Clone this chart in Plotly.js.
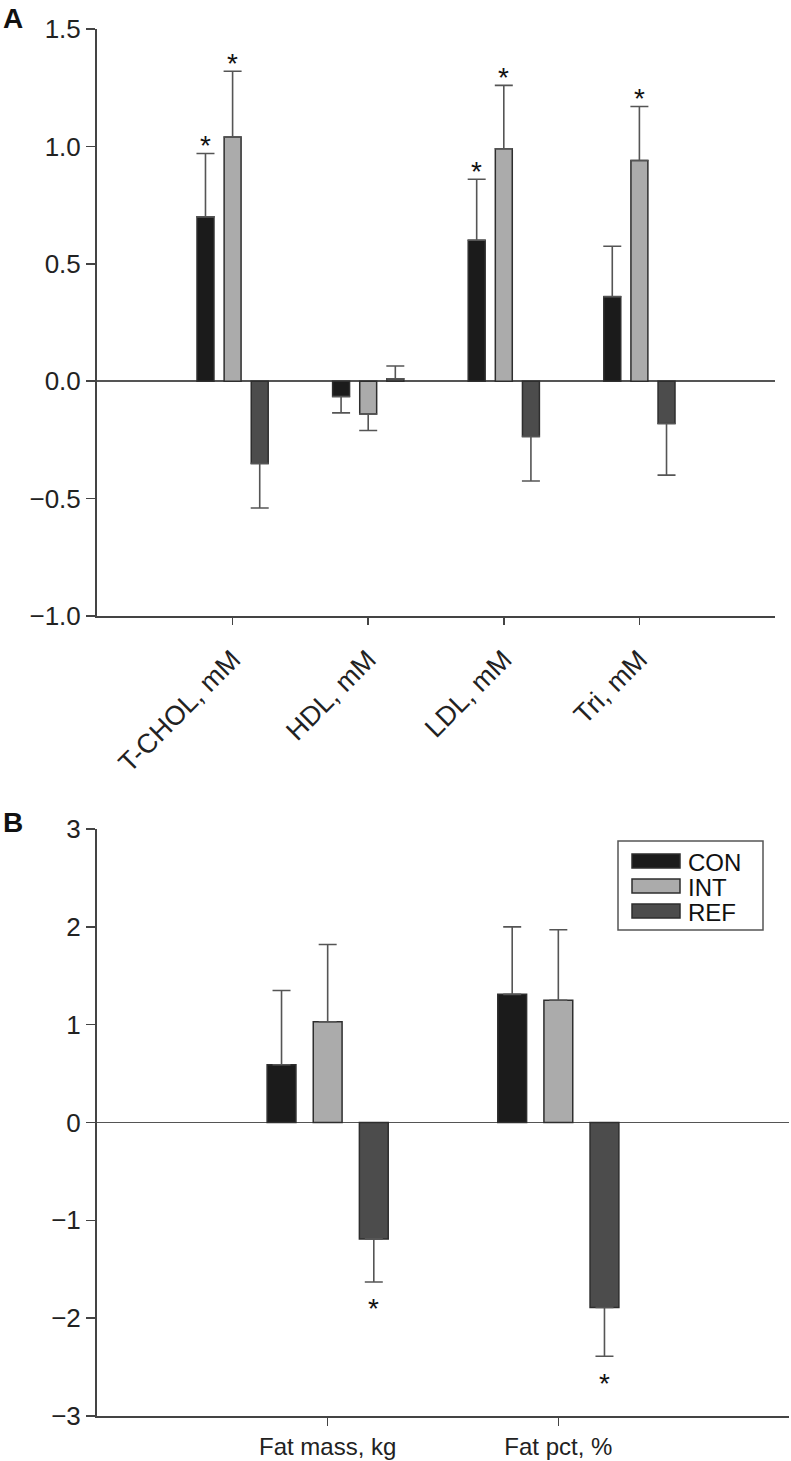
<!DOCTYPE html>
<html>
<head>
<meta charset="utf-8">
<script src="https://cdn.plot.ly/plotly-3.0.1.min.js"></script>
<style>html,body{margin:0;padding:0;background:#fff;}#chart{width:791px;height:1461px;}</style>
</head>
<body>
<div id="chart"></div>
<script>
// ---- data ----
const groups = ['CON', 'INT', 'REF'];
const groupColors = ['#1b1b1b', '#ababab', '#4c4c4c'];

const lipidCats = ['T-CHOL, mM', 'HDL, mM', 'LDL, mM', 'Tri, mM'];
const lipidCON = [0.70, -0.065, 0.60, 0.36];
const lipidCONerr = [0.27, 0.07, 0.26, 0.215];
const lipidCONsig = [1, 0, 1, 0];
const lipidINT = [1.04, -0.14, 0.99, 0.94];
const lipidINTerr = [0.28, 0.07, 0.27, 0.23];
const lipidINTsig = [1, 0, 1, 1];
const lipidREF = [-0.35, 0.01, -0.235, -0.18];
const lipidREFerr = [0.19, 0.055, 0.19, 0.22];
const lipidREFsig = [0, 0, 0, 0];

const fatCats = ['Fat mass, kg', 'Fat pct, %'];
const fatCON = [0.59, 1.31];
const fatCONerr = [0.76, 0.69];
const fatCONsig = [0, 0];
const fatINT = [1.03, 1.25];
const fatINTerr = [0.79, 0.72];
const fatINTsig = [0, 0];
const fatREF = [-1.19, -1.89];
const fatREFerr = [0.44, 0.50];
const fatREFsig = [1, 1];

const lipidTicks = [-1.0, -0.5, 0.0, 0.5, 1.0, 1.5];
const fatTicks = [-3, -2, -1, 0, 1, 2, 3];

// ---- build ----
const FONT = 'Liberation Sans, Arial, Helvetica, sans-serif';
const slotOffsets = [-0.2, 0, 0.2];
const W = 791, H = 1461, ML = 97, MR = 2, MT = 29, MB = 45;
const PW = W - ML - MR, PH = H - MT - MB;
const px2x = p => (p - ML) / PW;          // pixel -> paper x (layout helper)
const py2y = p => (H - MB - p) / PH;      // pixel -> paper y (layout helper)

function makeTrace(name, idx, cats, vals, errs, xa, ya) {
  return {
    type: 'bar', name: name, x: cats, y: vals, xaxis: xa, yaxis: ya,
    showlegend: false,
    marker: {color: groupColors[idx], line: {color: '#2e2e2e', width: 1.5}},
    error_y: {
      type: 'data', symmetric: false,
      array: vals.map((v, i) => v >= 0 ? errs[i] : 0),
      arrayminus: vals.map((v, i) => v < 0 ? errs[i] : 0),
      color: '#555', thickness: 1.6, width: 9
    },
    hoverinfo: 'skip'
  };
}

const lipidSets = [[lipidCON, lipidCONerr, lipidCONsig], [lipidINT, lipidINTerr, lipidINTsig], [lipidREF, lipidREFerr, lipidREFsig]];
const fatSets = [[fatCON, fatCONerr, fatCONsig], [fatINT, fatINTerr, fatINTsig], [fatREF, fatREFerr, fatREFsig]];

const traces = [];
lipidSets.forEach((s, g) => traces.push(makeTrace(groups[g], g, lipidCats, s[0], s[1], 'x', 'y')));
fatSets.forEach((s, g) => traces.push(makeTrace(groups[g], g, fatCats, s[0], s[1], 'x2', 'y2')));

const annotations = [];
function addStars(sets, xref, yref) {
  sets.forEach((s, g) => {
    s[2].forEach((flag, i) => {
      if (!flag) return;
      const v = s[0][i], e = s[1][i];
      const pos = v >= 0;
      annotations.push({
        xref: xref, yref: yref, x: i + slotOffsets[g], y: pos ? v + e : v - e,
        text: '*', showarrow: false, font: {family: FONT, size: 28, color: '#111'},
        xanchor: 'center', yanchor: 'middle', yshift: pos ? 8 : -27
      });
    });
  });
}
addStars(lipidSets, 'x', 'y');
addStars(fatSets, 'x2', 'y2');

annotations.push({xref: 'paper', yref: 'paper', x: px2x(1), y: py2y(19), xanchor: 'left', yanchor: 'middle',
  text: '<b>A</b>', showarrow: false, font: {family: FONT, size: 28, color: '#111'}});
annotations.push({xref: 'paper', yref: 'paper', x: px2x(1), y: py2y(822), xanchor: 'left', yanchor: 'middle',
  text: '<b>B</b>', showarrow: false, font: {family: FONT, size: 28, color: '#111'}});

// custom legend (wide swatches as in the original figure)
const shapes = [];
shapes.push({type: 'rect', xref: 'paper', yref: 'paper', x0: px2x(618), x1: px2x(763), y0: py2y(841), y1: py2y(930),
  line: {color: '#555', width: 1.5}, fillcolor: '#fff', layer: 'above'});
groups.forEach((name, g) => {
  const cy = 861 + g * 25;
  shapes.push({type: 'rect', xref: 'paper', yref: 'paper', x0: px2x(632), x1: px2x(680), y0: py2y(cy - 7), y1: py2y(cy + 7),
    line: {color: '#2e2e2e', width: 1.5}, fillcolor: groupColors[g], layer: 'above'});
  annotations.push({xref: 'paper', yref: 'paper', x: px2x(686), y: py2y(cy + 1), xanchor: 'left', yanchor: 'middle',
    text: name, showarrow: false, font: {family: FONT, size: 24, color: '#111'}});
});

const axisCommon = {
  showline: true, linecolor: '#444', linewidth: 2, ticks: 'outside', tickcolor: '#444', tickwidth: 1.5,
  showgrid: false, tickfont: {family: FONT, size: 26, color: '#222'}, fixedrange: true
};

const layout = {
  width: W, height: H,
  margin: {l: ML, r: MR, t: MT, b: MB},
  paper_bgcolor: '#fff', plot_bgcolor: '#fff',
  barmode: 'group', bargap: 0.4, bargroupgap: 0.375,
  showlegend: false,
  xaxis: Object.assign({}, axisCommon, {domain: [0, px2x(775)], anchor: 'y', type: 'category',
    range: [-1, lipidCats.length], tickangle: -45, ticklen: 7, zeroline: false, ticklabelstandoff: 8,
    tickfont: {family: FONT, size: 27, color: '#222'}}),
  yaxis: Object.assign({}, axisCommon, {domain: [py2y(616), 1], anchor: 'x', range: [lipidTicks[0], lipidTicks[lipidTicks.length - 1]],
    tickvals: lipidTicks, tickformat: '.1f', ticklen: 9, zeroline: true, zerolinecolor: '#555', zerolinewidth: 1.6}),
  xaxis2: Object.assign({}, axisCommon, {domain: [0, 1], anchor: 'y2', type: 'category',
    range: [-1, fatCats.length], ticklen: 8, zeroline: false, ticklabelstandoff: 0,
    tickfont: {family: FONT, size: 24, color: '#222'}}),
  yaxis2: Object.assign({}, axisCommon, {domain: [0, py2y(829)], anchor: 'x2', range: [fatTicks[0], fatTicks[fatTicks.length - 1]],
    tickvals: fatTicks, ticklen: 9, zeroline: true, zerolinecolor: '#555', zerolinewidth: 1.6}),
  annotations: annotations,
  shapes: shapes
};

Plotly.newPlot('chart', traces, layout, {displayModeBar: false, staticPlot: true});
</script>
</body>
</html>
